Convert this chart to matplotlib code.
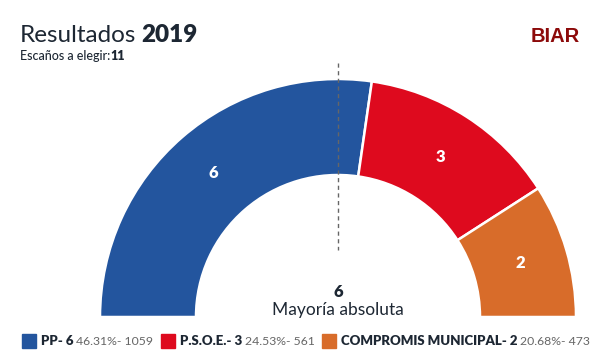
import matplotlib
matplotlib.use("Agg")
import numpy as np
import matplotlib.pyplot as plt

plt.rcParams["font.family"] = ["Lato", "DejaVu Sans"]

W, H = 608, 363

# Datos
parties = ["PP", "P.S.O.E.", "COMPROMIS MUNICIPAL"]
seats = [6, 3, 2]
percents = ["46.31%", "24.53%", "20.68%"]
votes = [1059, 561, 473]
colors = ["#23559e", "#de0a1e", "#d86c2a"]
total_seats = 11
majority = 6

TEXT = "#1d2733"
GREY = "#666666"

fig = plt.figure(figsize=(W / 100, H / 100), dpi=100)
ax = fig.add_axes([0, 0, 1, 1])

# semicirculo: se añade una porcion invisible para la mitad inferior
wedges, _ = ax.pie(seats + [total_seats], colors=colors + ["white"],
                   startangle=180, counterclock=False,
                   center=(338, H - 317), radius=238,
                   wedgeprops=dict(width=96, edgecolor="white", linewidth=1.8))
wedges[-1].set_visible(False)

for w, s in zip(wedges[:-1], seats):
    mid = np.deg2rad((w.theta1 + w.theta2) / 2)
    r = w.r - w.width / 2
    ax.text(w.center[0] + r * np.cos(mid), w.center[1] + r * np.sin(mid), str(s),
            color="white", fontsize=12, fontweight="heavy", ha="center", va="center")

ax.plot([338, 338], [H - 63, H - 250], color=GREY, linewidth=1, linestyle=(0, (3, 2.5)))

ax.set_xlim(0, W)
ax.set_ylim(0, H)
ax.set_aspect("equal")
ax.axis("off")

renderer = fig.canvas.get_renderer()


def chain(x, y, parts, gap=3):
    for s, kw in parts:
        t = ax.text(x, y, s, va="baseline", ha="left", **kw)
        x += t.get_window_extent(renderer).width + gap
    return x


chain(20, H - 42, [("Resultados", dict(fontsize=17.5, color=TEXT)),
                   ("2019", dict(fontsize=17.5, color=TEXT, fontweight="heavy"))], gap=5)
chain(20, H - 60, [("Escaños a elegir:", dict(fontsize=9, color=TEXT, fontweight="medium")),
                   (str(total_seats), dict(fontsize=9, color=TEXT, fontweight="heavy"))], gap=0)
ax.text(580, H - 42, "BIAR", fontsize=14.5, fontweight="bold", color="#8c0a0a",
        family="Liberation Sans", ha="right", va="baseline")

ax.text(338, H - 297, str(majority), fontsize=12, fontweight="heavy", color=TEXT,
        ha="center", va="baseline")
ax.text(338, H - 315, "Mayoría absoluta", fontsize=12.5, color=TEXT,
        ha="center", va="baseline")

# leyenda
x = 22
for p, s, pc, v, c in zip(parties, seats, percents, votes, colors):
    ax.add_patch(plt.Rectangle((x, H - 348), 14, 14, color=c))
    x = chain(x + 19, H - 345,
              [(f"{p}- {s}", dict(fontsize=9.5, color=TEXT, fontweight="heavy")),
               (f"{pc}- {v}", dict(fontsize=8.8, color=GREY))], gap=3)
    x += 4

fig.savefig("out.png", dpi=100, facecolor="white")
